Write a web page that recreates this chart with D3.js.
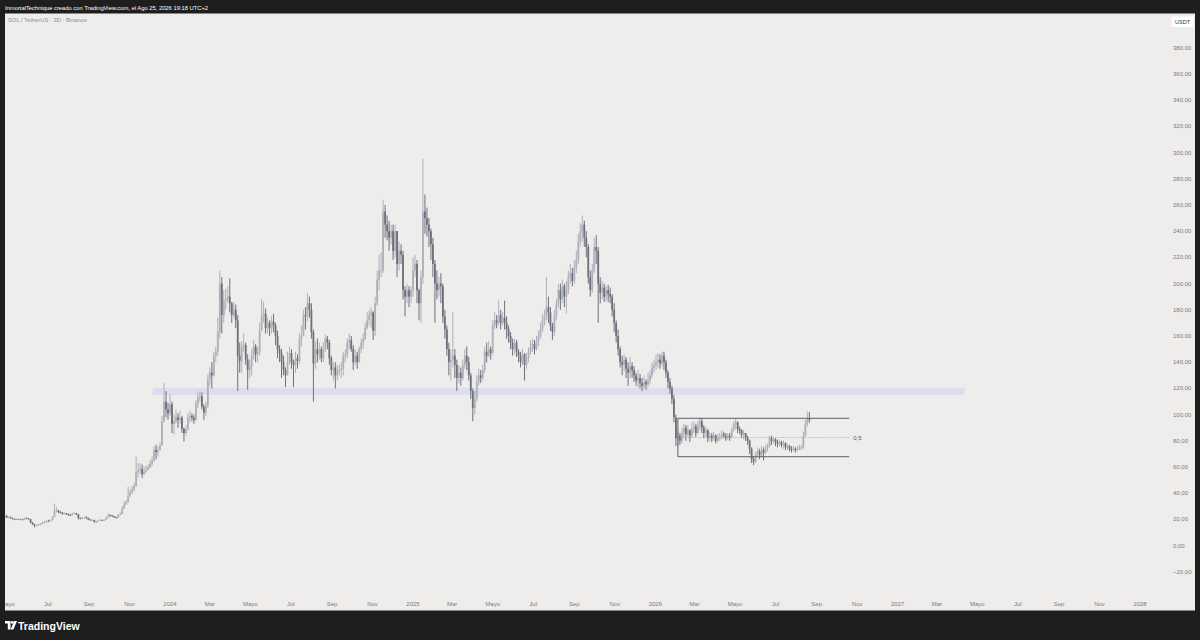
<!DOCTYPE html>
<html>
<head>
<meta charset="utf-8">
<script src="https://cdn.jsdelivr.net/npm/d3@7"></script>
<style>
  body { margin: 0; background: #1e1e1e; }
  svg { display: block; font-family: "Liberation Sans", Arial, sans-serif; }
</style>
</head>
<body>
<div id="chart"></div>
<script>
// SOL / USDT, velas de 3 dias (Binance)
const startDate = "2023-04-27";
const stepDays = 3;
const firstOpen = 22.0;

const closes = [
  22.9,21.5,21.9,21.0,20.4,20.1,20.2,19.9,20.2,19.9,
  20.9,20.8,20.2,17.6,16.2,15.4,15.8,16.0,16.8,17.6,
  17.9,18.9,18.7,19.5,21.8,26.6,26.9,25.6,25.3,24.4,
  24.6,24.2,23.6,23.4,24.4,24.8,23.9,21.0,20.8,21.4,
  21.5,21.1,20.0,19.5,19.6,18.4,18.6,19.0,19.6,19.3,
  19.7,21.4,23.2,23.0,22.6,21.6,21.3,23.5,24.2,28.4,
  31.5,33.3,38.5,40.8,43.0,45.5,56.0,57.5,58.5,54.5,
  56.5,58.0,59.8,62.5,65.0,73.0,71.5,73.0,76.5,95.0,
  110,104,101,108,93,95,98,96,97.5,89,
  86,89,98,99,97.5,96,108,113,114,106,
  101.5,107,127,132,130,145,148,163,200,176,
  187,188,190,185,176,180,172,145,141,152,
  153,142,134,137,145,152,146,148,164,175,
  177,166,170,166,171,168,160,150,147,140,
  134,130,140,147,140,138,143,141,158,160,
  176,175,185,180,163,139,150,146,150,143,
  150,158,155,143,134,136,130,134,134,135,
  145,146,155,157,150,140,145,140,150,155,
  158,166,172,176,178,164,185,203,210,210,
  255,245,240,235,240,225,240,215,225,222,
  195,190,195,190,195,210,215,195,185,205,
  255,250,245,240,230,215,200,195,200,198,
  175,165,150,140,142,145,138,128,132,128,
  138,145,140,130,118,105,112,125,130,128,
  134,148,145,150,147,168,172,170,176,170,
  174,170,165,160,155,150,155,148,145,140,
  146,138,143,148,152,154,150,156,160,165,
  172,175,182,178,168,163,175,185,195,188,
  198,190,195,205,208,202,212,218,232,240,
  245,235,228,205,195,210,228,225,200,193,
  197,190,195,192,190,180,170,160,150,140,
  138,142,135,132,137,134,130,126,128,124,
  122,125,123,126,130,136,138,140,142,139,
  145,140,132,125,120,112,98,82,84,80,
  86,90,85,88,84,89,91,86,92,95,
  90,86,88,82,84,82,84,80,82,83,
  85,84,82,84,83,88,93,94,89,88,
  85,86,82,80,74,66,64,70,72,69,
  73,71,74,76,82,80,81,79,78,79,
  77,78,75,76,74,73,74,73,74,75,
  75,84,93,97,96
];

const highs = [
  23.5,23.2,22.5,22.2,21.2,20.7,21.0,20.5,20.8,20.4,
  21.5,21.6,21.0,20.4,18.0,16.6,16.3,16.8,17.2,18.4,
  18.6,19.5,19.8,20.0,22.5,32.0,29.5,27.4,26.4,25.5,
  25.4,25.0,24.5,24.3,25.0,25.5,25.0,24.2,21.6,21.9,
  22.0,22.6,21.5,20.3,20.0,19.8,19.2,19.4,20.4,20.0,
  20.1,22.0,24.5,24.0,23.5,22.8,22.0,24.0,25.5,30.0,
  34.0,35.0,45.0,43.0,45.5,48.0,68.0,63.0,63.0,62.0,
  60.5,61.0,62.0,65.0,68.0,76.0,77.0,75.5,79.0,99.0,
  124,118,109,116,110,100,104,101,103,99,
  90,92,101,103,101,100,111,117,118,117,
  108,110,131,136,140,148,152,174,210,205,
  195,196,198,204,186,186,184,176,155,156,
  162,155,146,142,150,157,154,152,170,188,
  186,181,174,172,175,177,170,164,153,150,
  145,136,148,152,150,142,148,146,162,168,
  180,182,193,190,185,165,156,158,155,152,
  155,161,160,157,145,140,140,138,138,140,
  148,150,158,162,160,153,150,148,152,158,
  162,170,178,180,182,179,190,210,222,224,
  264,260,252,248,245,245,245,240,232,230,
  225,198,200,198,198,220,222,218,196,210,
  295,268,258,250,242,235,218,210,205,208,
  200,180,168,155,150,178,150,142,138,136,
  142,150,152,144,132,120,118,130,135,134,
  138,152,155,156,152,172,178,176,187,180,
  178,187,175,168,163,158,158,157,150,148,
  150,147,147,151,157,158,157,160,164,170,
  177,180,205,190,182,170,180,188,200,200,
  203,200,202,210,215,212,218,225,238,246,
  252,248,240,230,210,215,235,237,228,205,
  202,200,198,199,197,192,185,172,165,152,
  145,146,144,140,144,140,137,132,134,131,
  128,130,127,132,134,140,142,146,147,146,
  148,148,142,134,128,122,115,100,88,86,
  90,93,92,92,89,94,95,93,95,97.5,
  97,92,91,89,87,86,87,85,85,86,
  88,87,86,86,86,90,95,97,95,91,
  89,88,86,84,81,75,68,72,75,74,
  76,75,77,78,84,84,83,82,81,81,
  80,80,79,78,77,76,76,75,76,77,
  77,87,96,102.5,102
];

const lows = [
  21.8,21.0,21.0,20.6,19.9,19.5,19.8,19.5,19.7,19.2,
  19.9,20.3,19.9,17.0,15.8,13.9,14.8,15.3,15.6,16.6,
  16.8,17.6,18.2,18.4,19.3,21.6,25.5,24.8,24.6,23.6,
  23.9,23.5,22.8,22.7,22.9,24.0,23.4,20.0,20.1,20.0,
  20.9,20.6,19.6,19.1,19.0,17.4,17.3,18.3,18.9,18.8,
  18.9,19.6,21.3,22.2,22.0,21.2,20.9,21.0,23.0,23.9,
  28.0,31.0,33.0,37.0,39.5,41.5,45.0,52.0,55.0,51.5,
  54.0,55.5,57.5,59.0,60.5,64.0,66.0,68.0,72.5,77.0,
  94,98,96,99,86,85,93,90,93,86,
  79.5,84,88,94,95,93,95,105,110,104,
  96,99,105,122,120,129,140,145,158,162,
  170,180,185,178,170,174,166,118,132,132,
  148,138,119,128,130,142,140,140,145,164,
  170,162,162,160,162,163,153,143,140,128,
  130,121,131,138,135,121,132,135,139,152,
  160,165,171,174,158,110,135,140,142,140,
  140,148,150,138,130,126,120,126,130,128,
  130,140,143,150,148,134,138,135,140,147,
  150,157,165,168,166,157,160,183,195,205,
  208,235,233,225,230,218,220,205,210,215,
  188,175,185,182,185,190,205,185,172,170,
  200,238,236,228,218,205,170,188,190,185,
  170,158,145,130,126,136,128,118,124,122,
  126,135,134,126,112,95,100,110,122,124,
  126,132,140,144,142,146,165,166,168,165,
  168,165,158,155,150,145,146,144,140,136,
  138,126,135,140,146,148,146,149,152,158,
  163,168,172,170,164,157,160,172,182,180,
  185,182,177,192,200,198,200,208,215,228,
  232,228,220,200,190,193,208,215,170,185,
  188,186,187,186,185,175,163,155,145,136,
  130,133,128,122,128,128,125,122,121,120,
  118,120,119,121,123,128,132,134,136,135,
  137,134,128,120,116,108,94,76,76,77,
  78,82,80,83,79,82,86,83,85,88,
  86,82,83,79,80,79,80,78,79,80,
  81,82,80,81,80,82,87,89,86,85,
  82,81,80,77,70,63,61.5,63,68,66,
  68,65,70,72,75,77,78,76,75,76,
  75,74,73,73,72,71,72,71,72,73,
  73,74,83,91,94
];

const yTicks = [-20,0,20,40,60,80,100,120,140,160,180,200,220,240,260,280,300,320,340,360,380];
const monthNames = ["Ene","Feb","Mar","Abr","Mayo","Jun","Jul","Ago","Sep","Oct","Nov","Dic"];

// zona horizontal y rango dibujados sobre el grafico
const zone = { from: "2023-12-06", to: "2027-04-12", low: 115, high: 120.5 };
const rangeBox = { from: "2026-02-04", to: "2026-10-20", top: 97.2, bottom: 67.9, midLabel: "0,5" };

const headerText = "InmortalTechnique creado con TradingView.com, el Ago 25, 2026 19:18 UTC+2";
const symbolText = "SOL / TetherUS · 3D · Binance";

const W = 1200, H = 640;
const panel = { x: 5, y: 13.5, w: 1190, h: 597 };

const parse = d3.utcParse("%Y-%m-%d");
const t0 = parse(startDate);

const candles = closes.map((c, i) => ({
  date: d3.utcDay.offset(t0, i * stepDays),
  open: i === 0 ? firstOpen : closes[i - 1],
  close: c,
  high: highs[i],
  low: lows[i]
}));

const x = d3.scaleUtc()
  .domain([new Date(Date.UTC(2024, 0, 1)), new Date(Date.UTC(2028, 0, 1))])
  .range([170, 1140]);

const y = d3.scaleLinear()
  .domain([-20, 380])
  .range([571.9, 47.7]);

const svg = d3.select("#chart").append("svg")
  .attr("width", W)
  .attr("height", H);

svg.append("rect").attr("width", W).attr("height", H).attr("fill", "#1e1e1e");

svg.append("defs").append("clipPath").attr("id", "clip")
  .append("rect")
  .attr("x", panel.x).attr("y", panel.y)
  .attr("width", panel.w).attr("height", panel.h);

svg.append("rect")
  .attr("x", panel.x).attr("y", panel.y)
  .attr("width", panel.w).attr("height", panel.h)
  .attr("fill", "#eeedeb");

// cabecera
svg.append("text")
  .attr("x", 5).attr("y", 9.5)
  .attr("fill", "#ffffff")
  .style("font-size", "5.8px")
  .text(headerText);

const plot = svg.append("g").attr("clip-path", "url(#clip)");

plot.append("text")
  .attr("x", 8).attr("y", 22)
  .attr("fill", "#8a8c94")
  .style("font-size", "5.8px")
  .text(symbolText);

// zona de soporte
plot.append("rect")
  .attr("x", x(parse(zone.from)))
  .attr("y", y(zone.high))
  .attr("width", x(parse(zone.to)) - x(parse(zone.from)))
  .attr("height", y(zone.low) - y(zone.high))
  .attr("fill", "#dcdeed");

// velas
const upColor = "#aeb0ba", downColor = "#6e717c";
const bodyW = 1.8;

const g = plot.append("g");
g.selectAll(".wick")
  .data(candles)
  .enter().append("line")
  .attr("class", "wick")
  .attr("x1", d => x(d.date)).attr("x2", d => x(d.date))
  .attr("y1", d => y(Math.max(d.high, d.open, d.close)))
  .attr("y2", d => y(Math.min(d.low, d.open, d.close)))
  .attr("stroke", d => d.close >= d.open ? upColor : downColor)
  .attr("stroke-width", 1);

g.selectAll(".body")
  .data(candles)
  .enter().append("rect")
  .attr("class", "body")
  .attr("x", d => x(d.date) - bodyW / 2)
  .attr("y", d => y(Math.max(d.open, d.close)))
  .attr("width", bodyW)
  .attr("height", d => Math.max(0.8, Math.abs(y(d.open) - y(d.close))))
  .attr("fill", d => d.close >= d.open ? upColor : downColor);

// rango lateral 2026
const bx1 = x(parse(rangeBox.from)), bx2 = x(parse(rangeBox.to));
const mid = (rangeBox.top + rangeBox.bottom) / 2;
const box = plot.append("g");
box.append("line")
  .attr("x1", bx1).attr("x2", bx2)
  .attr("y1", y(rangeBox.top)).attr("y2", y(rangeBox.top))
  .attr("stroke", "#5f6068").attr("stroke-width", 1);
box.append("line")
  .attr("x1", bx1).attr("x2", bx2)
  .attr("y1", y(rangeBox.bottom)).attr("y2", y(rangeBox.bottom))
  .attr("stroke", "#5f6068").attr("stroke-width", 1);
box.append("line")
  .attr("x1", bx1).attr("x2", bx1)
  .attr("y1", y(rangeBox.top)).attr("y2", y(rangeBox.bottom))
  .attr("stroke", "#5f6068").attr("stroke-width", 1);
box.append("line")
  .attr("x1", bx1).attr("x2", bx2)
  .attr("y1", y(mid)).attr("y2", y(mid))
  .attr("stroke", "#9a9ba2").attr("stroke-width", 0.8)
  .attr("stroke-dasharray", "1,1.5");
box.append("text")
  .attr("x", bx2 + 4).attr("y", y(mid) + 2)
  .attr("fill", "#555860")
  .style("font-size", "6px")
  .text(rangeBox.midLabel);

// eje de precios
const fmt = d3.formatLocale({ decimal: ",", thousands: ".", grouping: [3], currency: ["", ""] }).format(".2f");
plot.selectAll(".ylab")
  .data(yTicks)
  .enter().append("text")
  .attr("class", "ylab")
  .attr("x", 1173)
  .attr("y", d => y(d) + 2)
  .attr("fill", "#787a82")
  .style("font-size", "6px")
  .text(d => fmt(d));

svg.append("rect")
  .attr("x", 1171.5).attr("y", 16.5)
  .attr("width", 22).attr("height", 10.5)
  .attr("fill", "#ffffff");
svg.append("text")
  .attr("x", 1182.5).attr("y", 24)
  .attr("text-anchor", "middle")
  .attr("fill", "#333")
  .style("font-size", "5.6px")
  .text("USDT");

// eje de tiempo
const xTicks = d3.utcMonth.every(2).range(new Date(Date.UTC(2023, 4, 1)), new Date(Date.UTC(2028, 0, 2)));
plot.selectAll(".xlab")
  .data(xTicks)
  .enter().append("text")
  .attr("class", "xlab")
  .attr("x", d => x(d))
  .attr("y", 606)
  .attr("text-anchor", "middle")
  .attr("fill", "#787a82")
  .style("font-size", "6px")
  .text(d => d.getUTCMonth() === 0 ? d.getUTCFullYear() : monthNames[d.getUTCMonth()]);

// pie: logo TradingView
const logo = svg.append("g").attr("transform", "translate(5,621)").attr("fill", "#ffffff");
logo.append("path").attr("d", "M0,0 H5.5 V8.5 H2.8 V2.6 H0 Z");
logo.append("circle").attr("cx", 7.3).attr("cy", 1.4).attr("r", 1.4);
logo.append("path").attr("d", "M9.2,0 H12 L8.4,8.5 H5.6 Z");
svg.append("text")
  .attr("x", 18).attr("y", 629.5)
  .attr("fill", "#ffffff")
  .style("font-size", "10.5px")
  .style("font-weight", "600")
  .text("TradingView");
</script>
</body>
</html>
